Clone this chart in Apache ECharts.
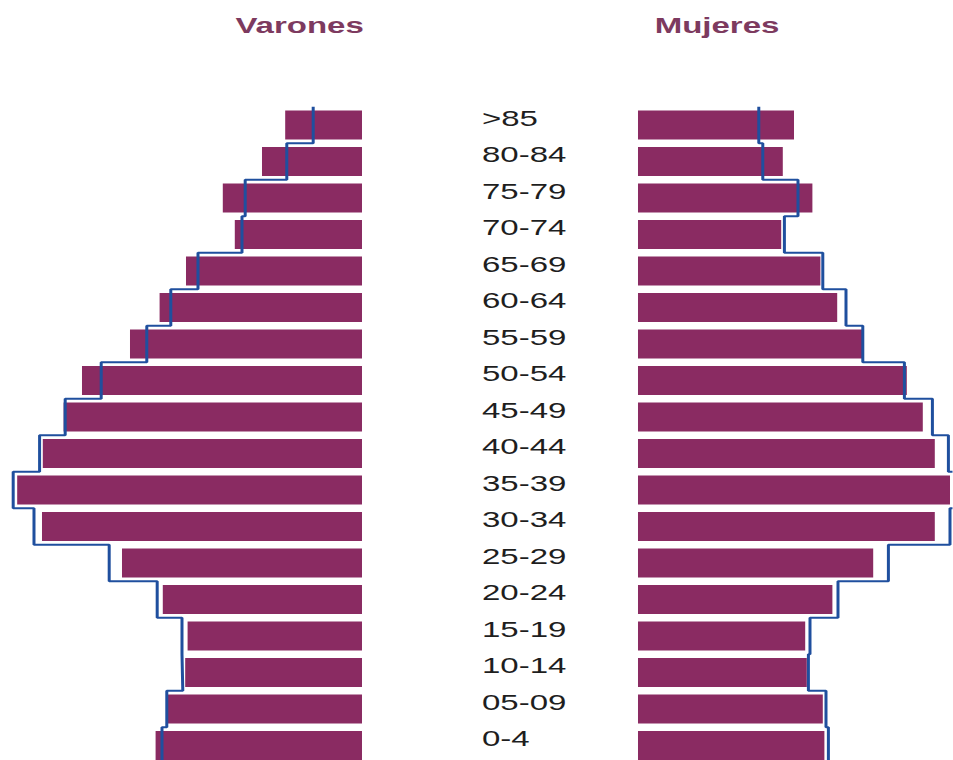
<!DOCTYPE html>
<html>
<head>
<meta charset="utf-8">
<script src="https://cdn.jsdelivr.net/npm/echarts@6/dist/echarts.min.js"></script>
<style>
  html, body { margin: 0; padding: 0; background: #fff; overflow: hidden; }
  /* the source picture is stretched sideways, so the chart is drawn narrow and widened */
  #chart { width: 635.33px; height: 760px; transform: scaleX(1.5); transform-origin: 0 0; }
</style>
</head>
<body>
<div id="chart"></div>
<script>
// grupos de edad, de arriba abajo
const ages = ['>85', '80-84', '75-79', '70-74', '65-69', '60-64', '55-59', '50-54', '45-49',
  '40-44', '35-39', '30-34', '25-29', '20-24', '15-19', '10-14', '05-09', '0-4'];
// % de población (barras) y perfil de referencia (línea azul)
const varones = [0.96, 1.25, 1.74, 1.59, 2.20, 2.53, 2.90, 3.50, 3.73,
  3.99, 4.31, 4.00, 3.00, 2.49, 2.18, 2.21, 2.43, 2.58];
const varonesRef = [0.61, 0.94, 1.46, 1.50, 2.05, 2.39, 2.69, 3.26, 3.71,
  4.03, 4.36, 4.10, 3.16, 2.56, 2.25, 2.24, 2.44, 2.50];
const mujeres = [1.95, 1.81, 2.18, 1.79, 2.28, 2.49, 2.80, 3.36, 3.56,
  3.71, 3.90, 3.71, 2.94, 2.43, 2.09, 2.11, 2.31, 2.33];
const mujeresRef = [1.51, 1.56, 2.00, 1.83, 2.31, 2.60, 2.81, 3.33, 3.68,
  3.88, 4.00, 3.90, 3.13, 2.50, 2.15, 2.13, 2.35, 2.38];

const BAR = '#8a2b62';
const LINE = '#1f4f9e';
const TITLE = '#7d3a5f';
const PLOT_W = 266.67; // 5 % de ancho
const TOP = 106.75;
const H = 657;

// escalones: cada grupo ocupa su franja entera (i-0.5 .. i+0.5)
function steps(values) {
  const pts = [];
  values.forEach((v, i) => {
    pts.push([v, i - 0.5]);
    pts.push([v, i + 0.5]);
  });
  return pts;
}

const chart = echarts.init(document.getElementById('chart'), null, { renderer: 'svg' });

const catAxis = (gridIndex, showLabels) => ({
  type: 'category',
  gridIndex,
  data: ages,
  inverse: true,
  axisLine: { show: false },
  axisTick: { show: false },
  axisLabel: showLabels ? {
    show: true,
    align: 'left',
    verticalAlign: 'bottom',
    lineHeight: 13,
    margin: 104,
    color: '#1e1e1e',
    fontFamily: 'Liberation Sans',
    fontSize: 22,
  } : { show: false },
});

const stepAxis = (gridIndex) => ({
  type: 'value',
  gridIndex,
  min: -0.5,
  max: ages.length - 0.5,
  inverse: true,
  show: false,
});

const titleStyle = { color: TITLE, fontFamily: 'Liberation Sans', fontWeight: 'bold', fontSize: 22 };

chart.setOption({
  animation: false,
  backgroundColor: '#fff',
  title: [
    { text: 'Varones', left: 199.7, top: 15, textAlign: 'center', padding: 0, textStyle: titleStyle },
    { text: 'Mujeres', left: 478, top: 15, textAlign: 'center', padding: 0, textStyle: titleStyle },
  ],
  grid: [
    { left: 241.33 - PLOT_W, width: PLOT_W, top: TOP, height: H, outerBoundsMode: 'none' },
    { left: 425.33, width: PLOT_W, top: TOP, height: H, outerBoundsMode: 'none' },
  ],
  xAxis: [
    { type: 'value', gridIndex: 0, min: 0, max: 5, inverse: true, show: false },
    { type: 'value', gridIndex: 1, min: 0, max: 5, show: false },
  ],
  yAxis: [catAxis(0, false), catAxis(1, true), stepAxis(0), stepAxis(1)],
  series: [
    {
      name: 'Varones', type: 'bar', xAxisIndex: 0, yAxisIndex: 0,
      data: varones, barWidth: 29, itemStyle: { color: BAR },
    },
    {
      name: 'Mujeres', type: 'bar', xAxisIndex: 1, yAxisIndex: 1,
      data: mujeres, barWidth: 29, itemStyle: { color: BAR },
    },
    {
      name: 'Varones ref', type: 'line', xAxisIndex: 0, yAxisIndex: 2,
      data: steps(varonesRef), showSymbol: false, z: 5,
      lineStyle: { color: LINE, width: 2 },
    },
    {
      name: 'Mujeres ref', type: 'line', xAxisIndex: 1, yAxisIndex: 3,
      data: steps(mujeresRef), showSymbol: false, z: 5,
      lineStyle: { color: LINE, width: 2 },
    },
  ],
});
</script>
</body>
</html>
